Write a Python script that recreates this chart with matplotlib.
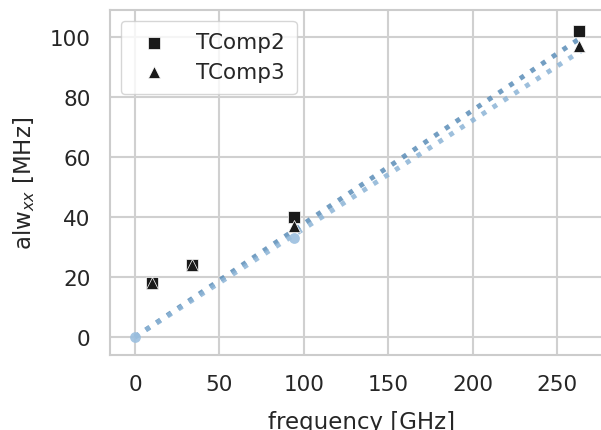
import matplotlib
matplotlib.use("Agg")
import matplotlib.pyplot as plt
import seaborn as sns

# measured widths vs. frequency
freq = [10, 34, 94, 263]
tcomp2 = [18, 24, 40, 102]
tcomp3 = [18, 24, 37, 97]

# reference points and linear trend lines through origin
ref_x = [0, 94]
ref_y = [0, 33]
fit_x = [0, 264]
fit2_y = [0, 99.7]
fit3_y = [0, 95.3]

sns.set_theme(style="whitegrid")
plt.rcParams['font.family'] = ['DejaVu Sans']

fig, ax = plt.subplots(figsize=(6.01, 4.31), dpi=100)

ax.plot(fit_x, fit2_y, ':', color="#5b8db8", lw=3.5, alpha=0.85, zorder=2)
ax.plot(fit_x, fit3_y, ':', color="#8cb4d6", lw=3.5, alpha=0.85, zorder=2)
ax.scatter(ref_x, ref_y, s=60, color="#9bbfdf", alpha=0.9, zorder=3, linewidths=0)

ax.scatter(freq, tcomp2, marker='s', s=75, color="#1a1a1a", edgecolor="white",
           linewidth=0.5, label="TComp2", zorder=4)
ax.scatter(freq, tcomp3, marker='^', s=75, color="#1a1a1a", edgecolor="white",
           linewidth=0.5, label="TComp3", zorder=5)

ax.set_xlim(-14.8, 283)
ax.set_ylim(-6, 109)
ax.set_xticks([0, 50, 100, 150, 200, 250])
ax.set_yticks([0, 20, 40, 60, 80, 100])
ax.tick_params(labelsize=15.5, colors="#262626", pad=8)
ax.set_xlabel("frequency [GHz]", fontsize=16.5, color="#262626", labelpad=11)
ax.set_ylabel(r"alw$_{xx}$ [MHz]", fontsize=16.5, color="#262626", labelpad=9)

for s in ax.spines.values():
    s.set_color("#cccccc")
    s.set_linewidth(1.5)
ax.grid(color="#d0d0d0", linewidth=1.5)

ax.legend(loc="upper left", fontsize=15.5, markerscale=1.0, handletextpad=0.95,
          borderpad=0.55, labelspacing=0.45, framealpha=0.8)

fig.subplots_adjust(left=0.183, right=1.02, top=0.975, bottom=0.174)
fig.savefig("out.png", dpi=100)
